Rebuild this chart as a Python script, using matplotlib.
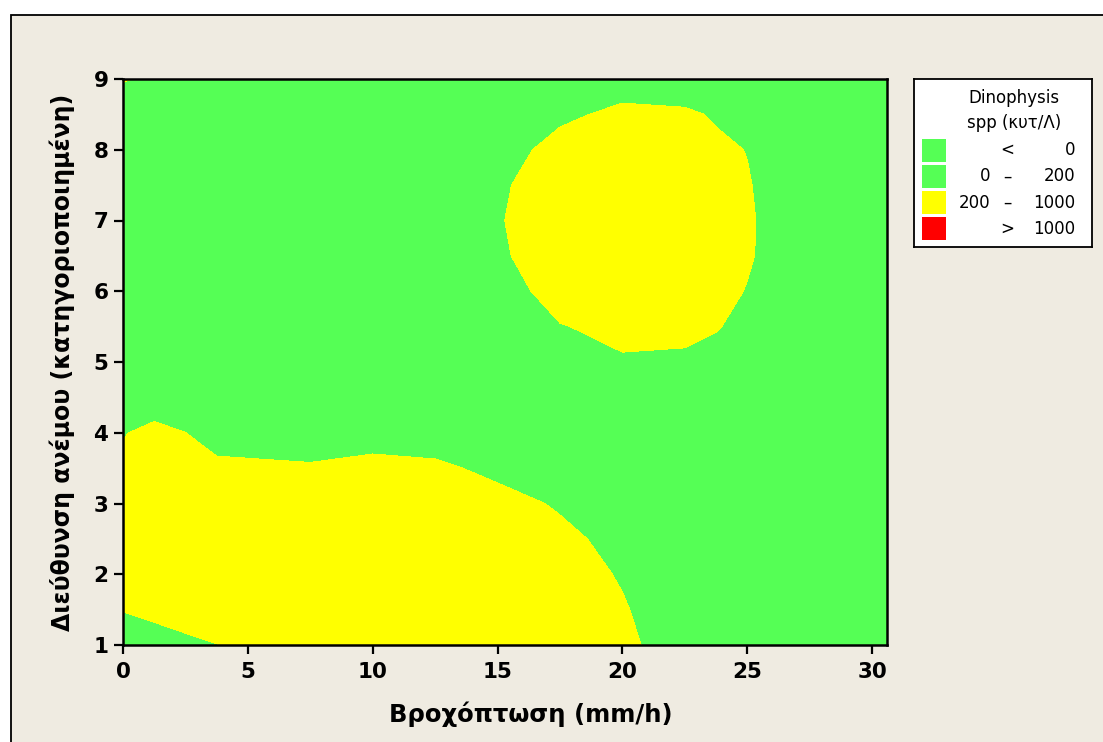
import numpy as np
import matplotlib
matplotlib.use("Agg")
import matplotlib.pyplot as plt
from matplotlib.patches import Rectangle

# ---------------- data ----------------
rain = [0, 1.25, 2.5, 3.75, 5, 7.5, 10, 12.5, 15, 17.5, 20, 22.5, 23.75, 25, 27.5, 30, 32.5]
wind = [1.0, 1.5, 2.0, 2.5, 3.0, 3.5, 4.0, 4.5, 5.0, 5.5, 6.0, 6.5, 7.0, 7.5, 8.0, 8.5, 9.0]
dino = [
    [106, 136, 160, 196, 244, 344, 400, 400, 400, 340, 240, 107, 70, 32, 10, 10, 10],
    [206, 236, 280, 300, 360, 400, 400, 400, 400, 320, 215, 90, 55, 20, 10, 10, 10],
    [306, 336, 360, 396, 400, 400, 400, 400, 380, 279, 185, 80, 45, 10, 10, 10, 10],
    [400, 400, 400, 400, 400, 400, 400, 400, 330, 240, 149, 50, 30, 10, 10, 10, 10],
    [380, 400, 400, 336, 326, 314, 340, 324, 260, 181, 78, 10, 10, 10, 10, 10, 10],
    [236, 330, 300, 234, 228, 216, 240, 234, 157, 80, 20, 10, 10, 10, 10, 10, 10],
    [191, 240, 201, 134, 128, 116, 140, 103, 60, 20, 60, 50, 30, 10, 10, 10, 10],
    [80, 115, 100, 40, 30, 20, 40, 20, 10, 60, 120, 110, 60, 10, 10, 10, 10],
    [10, 10, 10, 10, 10, 10, 10, 10, 20, 120, 180, 160, 152, 40, 10, 10, 10],
    [10, 10, 10, 10, 10, 10, 10, 30, 70, 190, 252, 260, 209, 160, 60, 10, 10],
    [10, 10, 10, 10, 10, 10, 10, 60, 96, 290, 360, 293, 244, 194, 80, 10, 10],
    [10, 10, 10, 10, 10, 10, 10, 78, 172, 300, 380, 320, 265, 215, 90, 10, 10],
    [10, 10, 10, 10, 10, 10, 10, 86, 187, 300, 390, 320, 270, 220, 77, 10, 10],
    [10, 10, 10, 10, 10, 10, 10, 76, 174, 290, 380, 310, 260, 208, 108, 10, 10],
    [10, 10, 10, 10, 10, 10, 10, 46, 136, 250, 330, 222, 222, 197, 90, 10, 10],
    [110, 90, 10, 10, 10, 10, 10, 20, 80, 172, 232, 220, 188, 155, 50, 10, 10],
    [210, 174, 120, 10, 10, 10, 10, 10, 60, 100, 132, 120, 100, 80, 20, 10, 10],
]
levels = [-1000, 0, 200, 1000, 100000]
level_colors = ['#55FF55', '#55FF55', '#FFFF00', '#FF0000']

legend_lo = ['', '0', '200', '']
legend_sign = ['<', '\u2013', '\u2013', '>']
legend_hi = ['0', '200', '1000', '1000']
legend_title = ['Dinophysis', 'spp (\u03ba\u03c5\u03c4/\u039b)']

xticks = [0, 5, 10, 15, 20, 25, 30]
yticks = [1, 2, 3, 4, 5, 6, 7, 8, 9]
xlabel = 'Βροχόπτωση (mm/h)'
ylabel = 'Διεύθυνση ανέμου (κατηγοριοποιημένη)'

# ---------------- figure ----------------
W, H = 1103, 742
BEIGE = '#EFEBE1'
fig = plt.figure(figsize=(W / 100, H / 100), dpi=100, facecolor='white')
fig.patches.append(Rectangle((11 / W, -0.2), 1.5, 1.2 - 14.5 / H, transform=fig.transFigure,
                             facecolor=BEIGE, edgecolor='black', lw=1.3, zorder=-10))

ax = fig.add_axes([123 / W, (H - 645) / H, 764 / W, 566 / H])
ax.set_facecolor(level_colors[1])
X, Y = np.meshgrid(rain, wind)
ax.contourf(X, Y, np.array(dino, dtype=float), levels=levels, colors=level_colors)
ax.set_xlim(0, 30.6)
ax.set_ylim(1, 9)
ax.set_xticks(xticks)
ax.set_yticks(yticks)
for s in ax.spines.values():
    s.set_linewidth(1.8)
ax.tick_params(direction='out', length=6.5, width=1.6, labelsize=15.5)
ax.tick_params(axis='x', pad=6)
ax.tick_params(axis='y', pad=4)
for lab in ax.get_xticklabels() + ax.get_yticklabels():
    lab.set_fontweight('bold')

fig.text(531 / W, 1 - 714 / H, xlabel, ha='center', va='center', fontsize=17.5, fontweight='bold')
fig.text(62 / W, 1 - 362 / H, ylabel, ha='center', va='center', rotation=90,
         fontsize=17, fontweight='bold')

# ---------------- legend ----------------
lax = fig.add_axes([914 / W, (H - 247) / H, 178 / W, 168 / H])
lax.set_xlim(914, 1092)
lax.set_ylim(247, 79)
lax.set_xticks([])
lax.set_yticks([])
lax.set_facecolor('white')
for s in lax.spines.values():
    s.set_linewidth(1.3)
for i, t in enumerate(legend_title):
    lax.text(1014, 98 + 25 * i, t, ha='center', va='center', fontsize=12)
for i in range(len(legend_hi)):
    yc = 150 + 26.3 * i
    lax.add_patch(Rectangle((922, yc - 11.5), 24, 23, facecolor=level_colors[i], edgecolor='none'))
    lax.text(990, yc, legend_lo[i], ha='right', va='center', fontsize=12)
    lax.text(1007, yc, legend_sign[i], ha='center', va='center', fontsize=12)
    lax.text(1075, yc, legend_hi[i], ha='right', va='center', fontsize=12)

fig.savefig('out.png', dpi=100, facecolor='white')
